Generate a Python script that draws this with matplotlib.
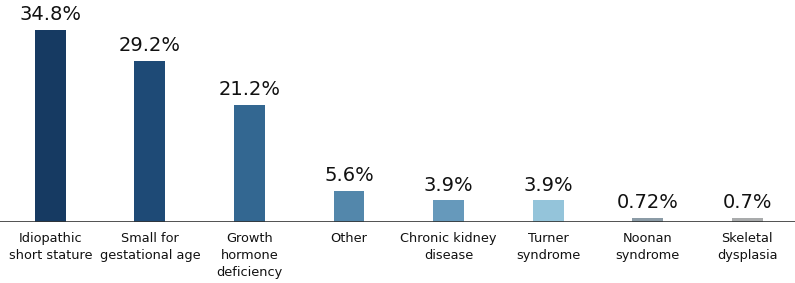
import matplotlib.pyplot as plt

categories = ['Idiopathic\nshort stature', 'Small for\ngestational age', 'Growth\nhormone\ndeficiency',
              'Other', 'Chronic kidney\ndisease', 'Turner\nsyndrome', 'Noonan\nsyndrome', 'Skeletal\ndysplasia']
values = [34.8, 29.2, 21.2, 5.6, 3.9, 3.9, 0.72, 0.7]
labels = ['34.8%', '29.2%', '21.2%', '5.6%', '3.9%', '3.9%', '0.72%', '0.7%']
colors = ['#163a62', '#1e4a76', '#336791', '#5387ab', '#6699bb', '#94c4da', '#8b9ba6', '#a9abac']

plt.rcParams['font.family'] = ['DejaVu Sans']

fig = plt.figure(figsize=(7.95, 2.83), dpi=100)
ax = fig.add_axes([0, 61 / 283, 1, 222 / 283])

x = range(len(values))
ax.bar(x, values, width=0.31, color=colors)

for i, v in enumerate(values):
    ax.text(i, v + 1.8, labels[i], ha='center', va='baseline', fontsize=14, color='#111111')

for i, c in enumerate(categories):
    ax.text(i, -1.9, c, ha='center', va='top', fontsize=9.3, color='#111111', linespacing=1.4)

ax.set_xlim(-0.506, 7.48)
ax.set_ylim(0, 40.2)
ax.axhline(0, color='#333333', linewidth=1.2)
ax.set_xticks([])
ax.set_yticks([])
for s in ax.spines.values():
    s.set_visible(False)

fig.savefig('out.png', dpi=100)
